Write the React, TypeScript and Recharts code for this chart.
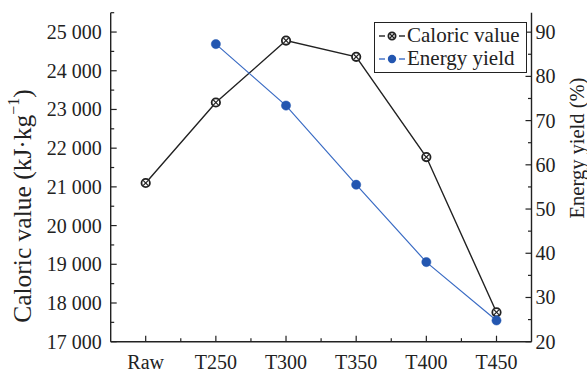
import React from 'react';
import { LineChart, Line, XAxis, YAxis, Legend } from 'recharts';

// Samples along the treatment temperature
const categories = ['Raw', 'T250', 'T300', 'T350', 'T400', 'T450'];
// Caloric value, kJ/kg
const caloricValue = [21100, 23180, 24780, 24360, 21770, 17760];
// Energy yield, % (no yield for the raw sample)
const energyYield: (number | null)[] = [null, 87.3, 73.4, 55.5, 38.0, 24.8];

const leftTicks = [17000, 17500, 18000, 18500, 19000, 19500, 20000, 20500, 21000, 21500, 22000, 22500, 23000, 23500, 24000, 24500, 25000, 25500];
const rightTicks = [20, 25, 30, 35, 40, 45, 50, 55, 60, 65, 70, 75, 80, 85, 90];

const data = categories.map((name, i) => ({
  name,
  caloric: caloricValue[i],
  energy: energyYield[i],
}));

const W = 587;
const H = 373;
const PLOT_LEFT = 110.7;
const PLOT_RIGHT = 531.5;
const PLOT_TOP = 12.7;
const PLOT_BOTTOM = 341.7;
const X_PAD = 35;
const STEP = (PLOT_RIGHT - PLOT_LEFT - 2 * X_PAD) / (categories.length - 1);

const FONT = 'Liberation Serif, Tinos, Times New Roman, DejaVu Serif, serif';
const INK = '#222';
const BLUE = '#2356b0';
const BLUE_LINE = '#3b6cc4';
const TICK_FS = 20;
const MAJOR = 6;
const MINOR = 3.5;

const fmt = (v: number) => {
  const s = String(v);
  return s.length > 3 ? s.slice(0, s.length - 3) + ' ' + s.slice(-3) : s;
};

const LeftTick = (props: any) => {
  const { x, y, payload } = props;
  const v = payload.value as number;
  const major = v % 1000 === 0;
  return (
    <g>
      <line x1={x} x2={x + (major ? MAJOR : MINOR)} y1={y} y2={y} stroke={INK} strokeWidth={1.2} />
      {major && (
        <text x={x - 9} y={y} dy="0.35em" textAnchor="end" fontFamily={FONT} fontSize={TICK_FS} fill={INK}>
          {fmt(v)}
        </text>
      )}
    </g>
  );
};

const RightTick = (props: any) => {
  const { x, y, payload } = props;
  const v = payload.value as number;
  const major = v % 10 === 0;
  return (
    <g>
      <line x1={x} x2={x - (major ? MAJOR : MINOR)} y1={y} y2={y} stroke={INK} strokeWidth={1.2} />
      {major && (
        <text x={x + 4} y={y} dy="0.35em" textAnchor="start" fontFamily={FONT} fontSize={TICK_FS} fill={INK}>
          {v}
        </text>
      )}
    </g>
  );
};

const BottomTick = (props: any) => {
  const { x, y, payload, index } = props;
  return (
    <g>
      <line x1={x} x2={x} y1={y} y2={y - MAJOR} stroke={INK} strokeWidth={1.2} />
      {index < categories.length - 1 && (
        <line x1={x + STEP / 2} x2={x + STEP / 2} y1={y} y2={y - MINOR} stroke={INK} strokeWidth={1.2} />
      )}
      <text x={x} y={y + 27} textAnchor="middle" fontFamily={FONT} fontSize={TICK_FS} fill={INK}>
        {payload.value}
      </text>
    </g>
  );
};

const TopTick = (props: any) => {
  const { x, y, index } = props;
  return (
    <g>
      <line x1={x} x2={x} y1={y} y2={y + MAJOR} stroke={INK} strokeWidth={1.2} />
      {index < categories.length - 1 && (
        <line x1={x + STEP / 2} x2={x + STEP / 2} y1={y} y2={y + MINOR} stroke={INK} strokeWidth={1.2} />
      )}
    </g>
  );
};

// Rotated axis title, centred on (cx, cy)
const AxisTitle = ({ cx, cy, size, children }: { cx: number; cy: number; size: number; children: React.ReactNode }) => (
  <text
    x={cx}
    y={cy}
    transform={`rotate(-90, ${cx}, ${cy})`}
    textAnchor="middle"
    dominantBaseline="central"
    fontFamily={FONT}
    fontSize={size}
    fill={INK}
  >
    {children}
  </text>
);

const LeftTitle = () => (
  <AxisTitle cx={22} cy={206} size={25.5}>
    Caloric value (kJ·kg
    <tspan dy={-9} fontSize={16}>−1</tspan>
    <tspan dy={9}>)</tspan>
  </AxisTitle>
);

const RightTitle = () => (
  <AxisTitle cx={577} cy={148} size={20.5}>
    Energy yield (%)
  </AxisTitle>
);

const CrossMarker = ({ cx, cy, size = 4.2 }: { cx: number; cy: number; size?: number }) => {
  const d = size * 0.62;
  return (
    <g>
      <circle cx={cx} cy={cy} r={size} fill="#fff" stroke={INK} strokeWidth={1.8} />
      <line x1={cx - d} y1={cy - d} x2={cx + d} y2={cy + d} stroke={INK} strokeWidth={1.2} />
      <line x1={cx - d} y1={cy + d} x2={cx + d} y2={cy - d} stroke={INK} strokeWidth={1.2} />
    </g>
  );
};

const CaloricDot = (props: any) => {
  const { cx, cy, index } = props;
  if (cx == null || cy == null) return <g key={`c-${index}`} />;
  return <CrossMarker key={`c-${index}`} cx={cx} cy={cy} />;
};

const EnergyDot = (props: any) => {
  const { cx, cy, index, value } = props;
  if (cx == null || cy == null || value == null) return <g key={`e-${index}`} />;
  return <circle key={`e-${index}`} cx={cx} cy={cy} r={4.6} fill={BLUE} stroke={BLUE} strokeWidth={0.5} />;
};

const LegendBox = () => (
  <div
    style={{
      border: `1.2px solid ${INK}`,
      background: '#fff',
      padding: '1px 3px 2px 3px',
      fontFamily: FONT,
      fontSize: 21,
      lineHeight: '23px',
      color: INK,
      boxSizing: 'border-box',
    }}
  >
    <div style={{ display: 'flex', alignItems: 'center' }}>
      <svg width={28} height={20} style={{ marginRight: 1 }}>
        <line x1={1} x2={7} y1={10} y2={10} stroke={INK} strokeWidth={1.4} />
        <line x1={21} x2={27} y1={10} y2={10} stroke={INK} strokeWidth={1.4} />
        <CrossMarker cx={14} cy={10} size={3.6} />
      </svg>
      <span>Caloric value</span>
    </div>
    <div style={{ display: 'flex', alignItems: 'center' }}>
      <svg width={28} height={20} style={{ marginRight: 1 }}>
        <line x1={1} x2={7} y1={10} y2={10} stroke={BLUE_LINE} strokeWidth={1.4} />
        <line x1={21} x2={27} y1={10} y2={10} stroke={BLUE_LINE} strokeWidth={1.4} />
        <circle cx={14} cy={10} r={4.2} fill={BLUE} />
      </svg>
      <span>Energy yield</span>
    </div>
  </div>
);

export default function App() {
  return (
    <div style={{ position: 'absolute', left: 0, top: 0, width: W, height: H, background: '#fff' }}>
      <LineChart
        width={W}
        height={H}
        data={data}
        margin={{ top: PLOT_TOP, right: 0, bottom: 0, left: 0 }}
      >
        <XAxis
          dataKey="name"
          xAxisId="bottom"
          orientation="bottom"
          height={H - PLOT_BOTTOM}
          padding={{ left: X_PAD, right: X_PAD }}
          axisLine={{ stroke: INK, strokeWidth: 1.4 }}
          tickLine={false}
          tickSize={0}
          tickMargin={0}
          interval={0}
          tick={<BottomTick />}
        />
        <XAxis
          dataKey="name"
          xAxisId="top"
          orientation="top"
          height={0}
          padding={{ left: X_PAD, right: X_PAD }}
          axisLine={{ stroke: INK, strokeWidth: 1.4 }}
          tickLine={false}
          tickSize={0}
          tickMargin={0}
          interval={0}
          tick={<TopTick />}
        />
        <YAxis
          yAxisId="left"
          orientation="left"
          width={PLOT_LEFT}
          domain={[17000, 25500]}
          ticks={leftTicks}
          interval={0}
          allowDataOverflow
          axisLine={{ stroke: INK, strokeWidth: 1.4 }}
          tickLine={false}
          tickSize={0}
          tickMargin={0}
          tick={<LeftTick />}
          label={<LeftTitle />}
        />
        <YAxis
          yAxisId="right"
          orientation="right"
          width={W - PLOT_RIGHT}
          domain={[20, 94.4]}
          ticks={rightTicks}
          interval={0}
          allowDataOverflow
          axisLine={{ stroke: INK, strokeWidth: 1.4 }}
          tickLine={false}
          tickSize={0}
          tickMargin={0}
          tick={<RightTick />}
          label={<RightTitle />}
        />
        <Legend
          layout="horizontal"
          verticalAlign="middle"
          align="center"
          content={<LegendBox />}
          wrapperStyle={{ left: 374, top: 22, width: 153, height: 'auto', right: 'auto', bottom: 'auto' }}
        />
        <Line
          xAxisId="bottom"
          yAxisId="left"
          type="linear"
          dataKey="caloric"
          name="Caloric value"
          stroke={INK}
          strokeWidth={1.4}
          dot={<CaloricDot />}
          activeDot={false}
          isAnimationActive={false}
        />
        <Line
          xAxisId="bottom"
          yAxisId="right"
          type="linear"
          dataKey="energy"
          name="Energy yield"
          stroke={BLUE_LINE}
          strokeWidth={1.2}
          dot={<EnergyDot />}
          activeDot={false}
          connectNulls={false}
          isAnimationActive={false}
        />
      </LineChart>
    </div>
  );
}
